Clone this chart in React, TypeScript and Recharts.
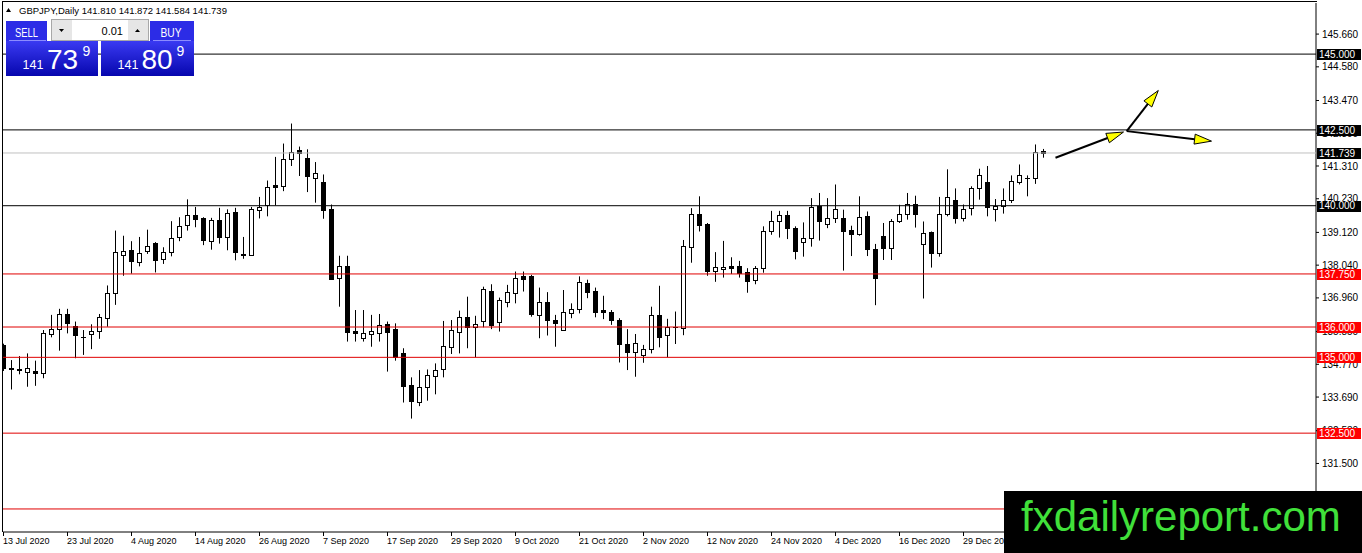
import React from "react";
import { ComposedChart, Bar, XAxis, YAxis, ReferenceLine } from "recharts";

// GBPJPY daily candles, 13 Jul 2020 .. 13 Jan 2021 (bar index = position)
const OPEN = [
  135.41, 134.65, 134.58, 134.5, 134.55, 134.47, 135.76, 135.93, 136.43, 136.03,
  135.68, 135.76, 135.87, 136.31, 137.12, 138.38, 138.55, 138.14, 138.52, 138.77,
  138.24, 138.47, 138.97, 139.35, 139.7, 139.6, 138.83, 139.54, 138.97, 139.8,
  138.42, 138.39, 139.85, 140.01, 140.69, 140.65, 141.55, 141.83, 141.58, 140.92,
  140.78, 139.88, 137.61, 138.02, 135.86, 135.63, 135.76, 135.79, 136.1, 135.94,
  135.15, 134.09, 133.54, 134.03, 134.39, 134.6, 135.35, 135.85, 136.34, 136.01,
  136.21, 137.19, 136.15, 136.84, 137.11, 137.69, 137.67, 136.39, 136.82, 136.23,
  135.9, 136.45, 136.59, 137.45, 137.19, 136.56, 136.51, 136.23, 135.44, 135.17,
  135.07, 135.26, 136.39, 135.74, 136.0, 135.97, 138.65, 139.74, 139.39, 137.86,
  137.9, 138.01, 138.01, 137.8, 137.55, 137.96, 139.15, 139.48, 139.7, 139.26,
  138.8, 138.93, 139.98, 139.39, 139.59, 139.59, 139.21, 139.06, 139.67, 138.57,
  139.01, 138.6, 139.51, 139.74, 140.06, 138.73, 139.13, 138.43, 139.73, 140.2,
  139.59, 139.93, 140.57, 140.79, 139.89, 140.0, 140.2, 140.79, 140.92, 140.92,
  141.81,
];
const HIGH = [
  135.45, 134.91, 135.04, 135.13, 134.89, 135.9, 136.4, 136.6, 136.6, 136.18,
  135.9, 136.09, 136.43, 137.37, 139.18, 139.01, 138.83, 138.97, 139.21, 138.8,
  138.63, 139.49, 139.62, 140.21, 139.96, 139.62, 139.6, 139.93, 139.88, 139.93,
  138.97, 139.96, 140.29, 140.83, 141.61, 142.05, 142.71, 141.95, 141.86, 141.44,
  141.03, 140.04, 138.35, 138.35, 136.56, 136.56, 136.4, 136.43, 136.18, 136.12,
  135.3, 134.34, 134.58, 134.6, 134.8, 136.2, 136.23, 136.54, 137.0, 136.37,
  137.33, 137.41, 136.97, 137.39, 137.83, 137.83, 137.72, 137.3, 137.15, 136.4,
  137.22, 136.78, 137.67, 137.56, 137.3, 137.03, 136.56, 136.29, 135.93, 135.77,
  135.41, 136.67, 137.36, 136.27, 136.51, 138.87, 139.92, 140.31, 139.43, 138.47,
  138.84, 138.3, 138.18, 137.94, 138.01, 139.32, 139.83, 139.83, 139.83, 139.32,
  139.45, 140.25, 140.42, 140.25, 140.7, 139.87, 139.34, 140.31, 139.81, 138.74,
  139.43, 139.56, 140.03, 140.42, 140.33, 139.48, 139.15, 140.29, 141.2, 140.57,
  140.04, 140.64, 141.22, 141.31, 140.22, 140.57, 141.0, 141.36, 141.0, 142.02,
  141.872,
];
const LOW = [
  134.55, 133.94, 134.44, 134.03, 134.06, 134.31, 135.66, 135.22, 135.79, 134.97,
  135.08, 135.27, 135.61, 136.01, 136.73, 137.69, 137.76, 138.0, 138.41, 137.8,
  138.08, 138.33, 138.83, 139.18, 139.29, 138.7, 138.55, 138.75, 138.53, 138.2,
  138.25, 138.38, 139.58, 139.65, 140.01, 140.48, 141.31, 140.98, 140.45, 140.1,
  139.57, 137.57, 136.67, 135.52, 135.52, 135.52, 135.35, 135.52, 134.53, 134.89,
  133.51, 132.98, 133.39, 133.57, 133.78, 134.34, 135.11, 135.13, 135.3, 135.0,
  135.99, 135.93, 135.85, 136.65, 136.78, 137.17, 136.34, 135.63, 135.72, 135.35,
  135.89, 136.29, 136.45, 136.95, 136.32, 136.26, 136.07, 134.83, 134.58, 134.36,
  134.82, 135.13, 135.33, 135.0, 135.44, 135.73, 138.12, 139.15, 137.69, 137.49,
  137.63, 137.75, 137.63, 137.13, 137.41, 137.79, 139.04, 138.95, 138.9, 138.23,
  138.32, 138.65, 138.85, 139.26, 139.43, 137.86, 138.34, 139.01, 138.34, 136.72,
  138.21, 138.21, 139.43, 139.54, 139.28, 136.94, 137.96, 138.32, 139.65, 139.41,
  139.48, 139.68, 140.2, 139.65, 139.48, 139.74, 140.09, 140.7, 140.31, 140.72,
  141.584,
];
const CLOSE = [
  134.64, 134.6, 134.6, 134.64, 134.47, 135.79, 135.93, 136.42, 136.13, 135.74,
  135.66, 135.87, 136.32, 137.12, 138.47, 138.51, 138.17, 138.44, 138.68, 138.2,
  138.47, 138.92, 139.32, 139.7, 139.57, 138.86, 139.54, 138.96, 139.76, 138.47,
  138.36, 139.9, 139.95, 140.63, 140.61, 141.55, 141.78, 141.75, 140.98, 141.07,
  139.85, 137.58, 138.0, 135.85, 135.79, 135.79, 135.86, 136.07, 135.85, 135.02,
  134.06, 133.57, 134.03, 134.42, 134.58, 135.37, 135.9, 136.34, 136.01, 136.1,
  137.26, 136.07, 136.89, 137.15, 137.61, 137.58, 136.42, 136.82, 136.23, 136.12,
  136.48, 136.59, 137.47, 137.17, 136.51, 136.48, 136.23, 135.43, 135.19, 135.46,
  135.26, 136.39, 135.68, 136.01, 135.99, 138.68, 139.74, 139.35, 137.86, 137.99,
  137.97, 137.96, 137.79, 137.53, 137.94, 139.18, 139.48, 139.7, 139.26, 138.52,
  138.93, 139.96, 139.51, 139.59, 139.89, 139.18, 139.06, 139.62, 138.57, 137.6,
  138.59, 139.51, 139.74, 140.06, 139.72, 139.09, 138.43, 139.72, 140.29, 139.59,
  139.89, 140.57, 141.02, 139.96, 140.0, 140.18, 140.83, 141.02, 140.91, 141.77,
  141.739,
];

// one label every 8 bars
const DATE_LABELS = [
  "13 Jul 2020", "23 Jul 2020", "4 Aug 2020", "14 Aug 2020", "26 Aug 2020",
  "7 Sep 2020", "17 Sep 2020", "29 Sep 2020", "9 Oct 2020", "21 Oct 2020",
  "2 Nov 2020", "12 Nov 2020", "24 Nov 2020", "4 Dec 2020", "16 Dec 2020",
  "29 Dec 2020",
];
const PRICE_TICKS = [
  145.66, 144.58, 143.47, 142.39, 141.31, 140.23, 139.12, 138.04, 136.96,
  135.85, 134.77, 133.69, 132.58, 131.5, 130.42,
];
const BLACK_LEVELS = [145.0, 142.5, 140.0];
const RED_LEVELS = [137.75, 136.0, 135.0, 132.5, 130.0];
const BID = 141.739;

// hand-drawn arrows (bar index, price)
const ARROWS = [
  { x1: 131.5, y1: 141.58, x2: 140.0, y2: 142.43 },
  { x1: 140.4, y1: 142.46, x2: 144.35, y2: 143.8 },
  { x1: 140.4, y1: 142.46, x2: 151.0, y2: 142.13 },
];

const data = OPEN.map((o, i) => ({
  i,
  open: o,
  high: HIGH[i],
  low: LOW[i],
  close: CLOSE[i],
  range: [LOW[i], HIGH[i]],
}));

const FONT = "'Liberation Sans', Arial, sans-serif";
const X_DOMAIN = [-0.0625, 164.0625];
const Y_DOMAIN = [129.24, 146.685];
const MARGIN = { top: 3, right: 0, bottom: 0, left: 3 };
const fmt = (v: number) => v.toFixed(3);

function Candle(props: any) {
  const { x, y, width, height, payload } = props;
  const { open, close, high, low } = payload;
  const cx = Math.floor(x + width / 2) + 0.5;
  const py = (p: number) =>
    high === low ? y : y + ((high - p) / (high - low)) * height;
  const top = Math.round(py(Math.max(open, close)));
  const bot = Math.round(py(Math.min(open, close)));
  const bull = close >= open;
  return (
    <g>
      <line x1={cx} x2={cx} y1={y} y2={y + height} stroke="#000" strokeWidth={1} />
      {bot - top < 1 ? (
        <line x1={cx - 2.5} x2={cx + 2.5} y1={top + 0.5} y2={top + 0.5} stroke="#000" />
      ) : (
        <rect
          x={cx - 2}
          y={top + 0.5}
          width={4}
          height={bot - top}
          fill={bull ? "#fff" : "#000"}
          stroke="#000"
          strokeWidth={1}
        />
      )}
    </g>
  );
}

function DateTick(props: any) {
  const { x, y, payload } = props;
  const label = DATE_LABELS[Math.round(payload.value / 8)];
  return (
    <text x={x - 0.5} y={y} dy="0.71em" textAnchor="start" fontSize={9} fill="#000" fontFamily={FONT}>
      {label}
    </text>
  );
}

function PriceTag(props: any) {
  const { viewBox, text, bg } = props;
  if (!viewBox) return null;
  const right = viewBox.x + viewBox.width;
  const cy = viewBox.y;
  return (
    <g>
      <rect x={right + 1} y={Math.round(cy) - 5} width={44} height={11} fill={bg} />
      <text x={right + 3} y={cy} dy="0.36em" fontSize={10} fill="#fff" fontFamily={FONT}>
        {text}
      </text>
    </g>
  );
}

function Arrow(props: any) {
  const { x1, y1, x2, y2 } = props;
  const a = Math.atan2(y2 - y1, x2 - x1);
  const len = 17;
  const half = 5;
  const bx = x2 - len * Math.cos(a);
  const by = y2 - len * Math.sin(a);
  const nx = -Math.sin(a) * half;
  const ny = Math.cos(a) * half;
  return (
    <g>
      <line x1={x1} y1={y1} x2={bx} y2={by} stroke="#000" strokeWidth={2} />
      <polygon
        points={`${x2},${y2} ${bx + nx},${by + ny} ${bx - nx},${by - ny}`}
        fill="#ffff00"
        stroke="#000"
        strokeWidth={1}
      />
    </g>
  );
}

// the same axes for both layers; the upper layer keeps them invisible
function axes(visible: boolean) {
  return [
    <XAxis
      key="x"
      dataKey="i"
      type="number"
      domain={X_DOMAIN}
      ticks={DATE_LABELS.map((_, k) => k * 8)}
      allowDataOverflow
      height={21}
      stroke="#000"
      axisLine={visible}
      tickLine={visible}
      tickSize={4}
      tickMargin={2}
      tick={visible ? <DateTick /> : false}
      interval={0}
    />,
    <YAxis
      key="y"
      orientation="right"
      type="number"
      domain={Y_DOMAIN}
      ticks={PRICE_TICKS}
      allowDataOverflow
      width={46}
      stroke="#000"
      axisLine={visible}
      tickLine={visible}
      tickSize={3}
      tickMargin={3}
      tickFormatter={fmt}
      tick={visible ? { fill: "#000", fontSize: 10, fontFamily: FONT } : false}
      interval={0}
    />,
  ];
}

function Overlay() {
  return (
    <svg
      width={1362}
      height={553}
      style={{ position: "absolute", left: 0, top: 0, pointerEvents: "none" }}
      fontFamily={FONT}
    >
      <defs>
        <linearGradient id="blue" x1="0" y1="0" x2="0" y2="1">
          <stop offset="0" stopColor="#3a3af2" />
          <stop offset="1" stopColor="#0606ae" />
        </linearGradient>
      </defs>
      {/* chart frame, top and left */}
      <line x1={2} x2={1317} y1={1.5} y2={1.5} stroke="#000" />
      <line x1={2.5} x2={2.5} y1={1} y2={532} stroke="#000" />

      {/* header */}
      <polygon points="6,12 11,12 8.5,8" fill="#000" />
      <text x={19} y={13.5} fontSize={9.5} fill="#000">
        GBPJPY,Daily  141.810 141.872 141.584 141.739
      </text>

      {/* one-click trading panel */}
      <rect x={6} y={21} width={41} height={20} fill="#2c2ce6" />
      <line x1={9} x2={46} y1={40.5} y2={40.5} stroke="#8c8cff" />
      <text x={26.5} y={36.5} fontSize={13} fill="#fff" textAnchor="middle" textLength={23} lengthAdjust="spacingAndGlyphs">
        SELL
      </text>
      <rect x={150} y={21} width={44} height={20} fill="#2c2ce6" />
      <line x1={153} x2={191} y1={40.5} y2={40.5} stroke="#8c8cff" />
      <text x={171} y={36.5} fontSize={13} fill="#fff" textAnchor="middle" textLength={21} lengthAdjust="spacingAndGlyphs">
        BUY
      </text>
      <rect x={51.5} y={19.5} width={97} height={21} fill="#e6e6e6" stroke="#a8a8a8" />
      <rect x={72} y={20} width={56} height={20} fill="#fff" />
      <polygon points="59,29 64,29 61.5,32" fill="#000" />
      <polygon points="135,32 140,32 137.5,29" fill="#000" />
      <text x={123} y={34.5} fontSize={11} fill="#000" textAnchor="end">
        0.01
      </text>

      <rect x={6} y={41} width={92} height={35} fill="url(#blue)" />
      <text x={22.5} y={69} fontSize={12.5} fill="#fff">141</text>
      <text x={47} y={69} fontSize={28} fill="#fff">73</text>
      <text x={82.5} y={55.5} fontSize={14} fill="#fff">9</text>
      <rect x={101} y={41} width={93} height={35} fill="url(#blue)" />
      <text x={117.5} y={69} fontSize={12.5} fill="#fff">141</text>
      <text x={141.5} y={69} fontSize={28} fill="#fff">80</text>
      <text x={176.5} y={55.5} fontSize={14} fill="#fff">9</text>

      {/* watermark */}
      <rect x={1004} y={491} width={358} height={62} fill="#000" />
      <text x={1021} y={531} fontSize={42} fill="#40e03a">
        fxdailyreport.com
      </text>
    </svg>
  );
}

export default function App() {
  const layer: React.CSSProperties = { position: "absolute", left: 0, top: 0 };
  return (
    <div
      style={{
        position: "absolute",
        left: 0,
        top: 0,
        width: 1362,
        height: 553,
        background: "#fff",
        overflow: "hidden",
        fontFamily: FONT,
      }}
    >
      <div style={layer}>
        <ComposedChart width={1362} height={553} data={data} margin={MARGIN}>
          {axes(true)}
          <Bar dataKey="range" barSize={6} shape={<Candle />} isAnimationActive={false} />
        </ComposedChart>
      </div>
      <div style={layer}>
        <ComposedChart width={1362} height={553} data={data} margin={MARGIN}>
          {axes(false)}
          {RED_LEVELS.map((v) => (
            <ReferenceLine
              key={"r" + v}
              y={v}
              stroke="#e00000"
              strokeWidth={1}
              label={<PriceTag text={fmt(v)} bg="#ff0000" />}
            />
          ))}
          {BLACK_LEVELS.map((v) => (
            <ReferenceLine
              key={"b" + v}
              y={v}
              stroke="#000"
              strokeWidth={1}
              label={<PriceTag text={fmt(v)} bg="#000" />}
            />
          ))}
          <ReferenceLine y={BID} stroke="#c0c0c0" strokeWidth={1} label={<PriceTag text={fmt(BID)} bg="#000" />} />
          {ARROWS.map((a, k) => (
            <ReferenceLine
              key={"a" + k}
              segment={[
                { x: a.x1, y: a.y1 },
                { x: a.x2, y: a.y2 },
              ]}
              shape={(p: any) => <Arrow {...p} />}
            />
          ))}
        </ComposedChart>
      </div>
      <Overlay />
    </div>
  );
}
